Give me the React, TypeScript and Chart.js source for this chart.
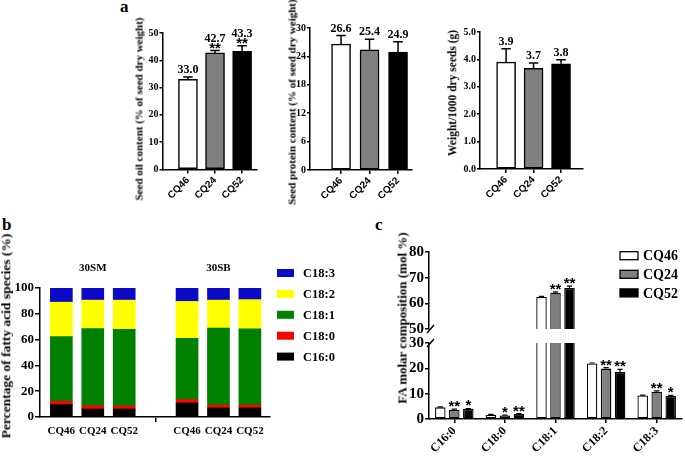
import React, { useEffect, useRef } from 'react';
import { Chart, registerables } from 'chart.js';

Chart.register(...registerables);

const SERIF = "'Liberation Serif', 'Times New Roman', serif";
const SANS = "'Liberation Sans', Arial, sans-serif";
Chart.defaults.color = '#000';
Chart.defaults.font.family = SERIF;

// ---------- panel a ----------
const strains = ['CQ46', 'CQ24', 'CQ52'];
const strainColors = ['#ffffff', '#808080', '#000000'];
const oilValues = [33.0, 42.7, 43.3];
const oilErrors = [0.85, 0.85, 2.0];
const oilSig = ['', '**', '**'];
const proteinValues = [26.6, 25.4, 24.9];
const proteinErrors = [1.8, 2.2, 2.2];
const proteinSig = ['', '', ''];
const weightValues = [3.9, 3.67, 3.84];
const weightErrors = [0.49, 0.2, 0.15];
const weightSig = ['', '', ''];

// ---------- panel b ----------
const compositionGroups = ['30SM', '30SB'];
const compositionSpecies = ['C16:0', 'C18:0', 'C18:1', 'C18:2', 'C18:3'];
const speciesColors = ['#000000', '#ff0000', '#008000', '#ffff00', '#0a0ac8'];
// order: 30SM CQ46, CQ24, CQ52, 30SB CQ46, CQ24, CQ52
const pctC160 = [9.6, 6.2, 6.2, 10.9, 7.0, 7.0];
const pctC180 = [2.6, 2.6, 2.4, 2.6, 2.1, 2.1];
const pctC181 = [50.1, 59.8, 59.4, 47.5, 59.9, 59.2];
const pctC182 = [26.7, 22.0, 22.6, 28.6, 21.6, 22.7];
const pctC183 = [11.0, 9.4, 9.4, 10.4, 9.4, 9.0];

// ---------- panel c ----------
const faLabels = ['C16:0', 'C18:0', 'C18:1', 'C18:2', 'C18:3'];
const molarCQ46 = [4.6, 1.7, 62.5, 21.9, 9.3];
const molarCQ24 = [3.7, 1.4, 64.1, 19.9, 10.8];
const molarCQ52 = [4.0, 2.0, 66.0, 18.6, 9.1];
const errCQ46 = [0.2, 0.1, 0.2, 0.2, 0.15];
const errCQ24 = [0.2, 0.1, 0.4, 0.4, 0.3];
const errCQ52 = [0.15, 0.1, 0.7, 1.0, 0.2];
const sigCQ46 = ['', '', '', '', ''];
const sigCQ24 = ['**', '*', '**', '**', '**'];
const sigCQ52 = ['*', '**', '**', '**', '*'];

// ---------- helpers ----------
const axisLine = { color: '#000', width: 1.5 };
const tickGrid = (extra: any = {}) => ({
  drawOnChartArea: false,
  drawTicks: true,
  tickLength: 4,
  color: '#000',
  lineWidth: 1.5,
  offset: false,
  ...extra,
});
const fixY = (w: number) => (s: any) => {
  s.width = w;
  s.paddingTop = 0;
  s.paddingBottom = 0;
};
const fixX = (h: number) => (s: any) => {
  s.height = h;
  s.paddingLeft = 0;
  s.paddingRight = 0;
};
const bold = (size: number, family = SERIF) => ({ family, size, weight: 'bold' as const });

const annotatePlugin = {
  id: 'annotate',
  afterDatasetsDraw(chart: any) {
    const { ctx } = chart;
    const y = chart.scales.y;
    chart.data.datasets.forEach((ds: any, di: number) => {
      if (!ds.errors && !ds.sig && !ds.valueText) return;
      const meta = chart.getDatasetMeta(di);
      meta.data.forEach((bar: any, i: number) => {
        const raw = ds.data[i];
        const v = typeof raw === 'number' ? raw : raw.y;
        if (v < y.min || v > y.max) return;
        const err = ds.errors ? ds.errors[i] : 0;
        const top = y.getPixelForValue(v + err);
        ctx.save();
        ctx.strokeStyle = '#000';
        ctx.fillStyle = '#000';
        ctx.lineWidth = ds.errorLineWidth ?? 1.5;
        if (err) {
          const cap = bar.width * 0.5;
          ctx.beginPath();
          ctx.moveTo(bar.x, bar.y);
          ctx.lineTo(bar.x, top);
          ctx.moveTo(bar.x - cap / 2, top);
          ctx.lineTo(bar.x + cap / 2, top);
          ctx.stroke();
        }
        ctx.textAlign = 'center';
        ctx.textBaseline = 'alphabetic';
        let cursor = top - 4;
        const sig = ds.sig ? ds.sig[i] : '';
        if (sig) {
          ctx.font = ds.sigFont;
          const m = ctx.measureText(sig);
          const base = top - 2 - m.actualBoundingBoxDescent;
          ctx.fillText(sig, bar.x, base);
          cursor = base - m.actualBoundingBoxAscent - 1;
        }
        const txt = ds.valueText ? ds.valueText[i] : '';
        if (txt) {
          ctx.font = ds.valueFont;
          ctx.fillText(txt, bar.x, cursor);
        }
        ctx.restore();
      });
    });
  },
};

const boxLegendPlugin = {
  id: 'boxLegend',
  afterDraw(chart: any, _a: any, opts: any) {
    if (!opts || opts.left == null) return;
    const { ctx } = chart;
    const ds = [...chart.data.datasets];
    if (opts.reverse) ds.reverse();
    ctx.save();
    ds.forEach((d: any, i: number) => {
      const cy = opts.top + i * opts.step;
      const x0 = opts.left;
      const y0 = cy - opts.boxHeight / 2;
      ctx.fillStyle = d.backgroundColor;
      ctx.fillRect(x0, y0, opts.boxWidth, opts.boxHeight);
      if (d.borderWidth) {
        ctx.strokeStyle = d.borderColor;
        ctx.lineWidth = 1.3;
        ctx.strokeRect(x0, y0, opts.boxWidth, opts.boxHeight);
      }
      ctx.fillStyle = '#000';
      ctx.font = opts.font;
      ctx.textAlign = 'left';
      ctx.textBaseline = 'middle';
      ctx.fillText(d.label, x0 + opts.boxWidth + opts.gap, cy + 1);
    });
    ctx.restore();
  },
};

const groupLabelPlugin = {
  id: 'groupLabels',
  afterDraw(chart: any, _a: any, opts: any) {
    if (!opts || !opts.labels) return;
    const { ctx } = chart;
    const x = chart.scales.x;
    ctx.save();
    ctx.fillStyle = '#000';
    ctx.font = opts.font;
    ctx.textAlign = 'center';
    ctx.textBaseline = 'alphabetic';
    opts.labels.forEach((l: string, g: number) => {
      ctx.fillText(l, x.getPixelForValue(opts.centers[g]), chart.chartArea.top - opts.offset);
    });
    ctx.restore();
  },
};

const axisBreakPlugin = {
  id: 'axisBreak',
  afterDraw(chart: any, _a: any, opts: any) {
    if (!opts || !opts.edge) return;
    const { ctx, chartArea } = chart;
    const yEdge = opts.edge === 'bottom' ? chartArea.bottom : chartArea.top;
    const x = chartArea.left;
    ctx.save();
    ctx.strokeStyle = '#000';
    ctx.lineWidth = 1.5;
    ctx.beginPath();
    ctx.moveTo(x - 2, yEdge + 4);
    ctx.lineTo(x + 5, yEdge - 4);
    ctx.stroke();
    ctx.restore();
  },
};

const baseOptions = {
  animation: false,
  responsive: false,
  maintainAspectRatio: false,
  devicePixelRatio: 1,
  events: [],
};

type TraitOpts = {
  values: number[];
  errors: number[];
  sig: string[];
  decimals: number;
  max: number;
  step: number;
  yWidth: number;
  xMin: number;
  xMax: number;
  padTop: number;
  padRight: number;
  xHeight: number;
};

function traitConfig(o: TraitOpts) {
  return {
    type: 'bar',
    data: {
      datasets: [
        {
          data: o.values.map((v, i) => ({ x: i, y: v })),
          backgroundColor: strainColors,
          borderColor: '#000',
          borderWidth: 1.5,
          borderSkipped: false,
          barThickness: 19,
          errors: o.errors,
          sig: o.sig,
          valueText: o.values.map((v) => v.toFixed(1)),
          sigFont: `bold 15px ${SANS}`,
          valueFont: `bold 12px ${SERIF}`,
        },
      ],
    },
    options: {
      ...baseOptions,
      layout: { padding: { left: 0, top: o.padTop, right: o.padRight, bottom: 0 } },
      plugins: { legend: { display: false }, tooltip: { enabled: false } },
      scales: {
        x: {
          type: 'linear',
          min: o.xMin,
          max: o.xMax,
          offset: false,
          grid: tickGrid(),
          border: axisLine,
          afterBuildTicks: (s: any) => {
            s.ticks = strains.map((_, i) => ({ value: i }));
          },
          afterFit: fixX(o.xHeight),
          ticks: {
            autoSkip: false,
            minRotation: 45,
            maxRotation: 45,
            padding: 1,
            font: bold(10, SANS),
            callback: (v: number) => strains[v] ?? '',
          },
        },
        y: {
          min: 0,
          max: o.max,
          grid: tickGrid({ tickLength: 3 }),
          border: axisLine,
          afterFit: fixY(o.yWidth),
          ticks: {
            stepSize: o.step,
            padding: 1,
            font: bold(10),
            callback: (v: number) => Number(v).toFixed(o.decimals),
          },
        },
      },
    },
    plugins: [annotatePlugin],
  };
}

function compositionConfig() {
  const series = [pctC160, pctC180, pctC181, pctC182, pctC183];
  const per = strains.length + 1;
  const slot = (j: number) => Math.floor(j / strains.length) * per + (j % strains.length);
  const slots = Array.from({ length: compositionGroups.length * per - 1 }, (_, i) => i);
  return {
    type: 'bar',
    data: {
      datasets: compositionSpecies.map((name, k) => ({
        label: name,
        data: series[k].map((v, j) => ({ x: slot(j), y: v })),
        backgroundColor: speciesColors[k],
        borderWidth: 0,
        barThickness: 22,
      })),
    },
    options: {
      ...baseOptions,
      layout: { padding: { left: 0, top: 48, right: 75, bottom: 0 } },
      plugins: {
        legend: { display: false },
        tooltip: { enabled: false },
        boxLegend: {
          left: 277,
          top: 33,
          step: 20.9,
          boxWidth: 17,
          boxHeight: 8,
          gap: 9,
          font: `bold 12.5px ${SERIF}`,
          reverse: true,
        },
        groupLabels: {
          labels: compositionGroups,
          centers: compositionGroups.map((_, g) => g * per + (strains.length - 1) / 2),
          offset: 17,
          font: `bold 11px ${SERIF}`,
        },
      },
      scales: {
        x: {
          type: 'linear',
          stacked: true,
          min: -0.68,
          max: 6.64,
          offset: false,
          grid: tickGrid({
            tickLength: 5,
            tickColor: (c: any) =>
              c.tick && c.tick.value % per === strains.length ? '#000' : 'rgba(0,0,0,0)',
          }),
          border: axisLine,
          afterBuildTicks: (s: any) => {
            s.ticks = slots.map((v) => ({ value: v }));
          },
          afterFit: fixX(42),
          ticks: {
            autoSkip: false,
            minRotation: 0,
            maxRotation: 0,
            padding: 3,
            font: bold(11),
            callback: (v: number) => strains[v % per] ?? '',
          },
        },
        y: {
          stacked: true,
          min: 0,
          max: 100,
          grid: tickGrid({ tickLength: 5 }),
          border: axisLine,
          afterFit: fixY(40),
          ticks: { stepSize: 20, padding: 1, font: bold(13) },
        },
      },
    },
    plugins: [boxLegendPlugin, groupLabelPlugin],
  };
}

function molarConfig(part: 'upper' | 'lower') {
  const series = [molarCQ46, molarCQ24, molarCQ52];
  const errs = [errCQ46, errCQ24, errCQ52];
  const sigs = [sigCQ46, sigCQ24, sigCQ52];
  const upper = part === 'upper';
  return {
    type: 'bar',
    data: {
      labels: faLabels,
      datasets: strains.map((name, k) => ({
        label: name,
        data: series[k],
        errors: errs[k],
        sig: sigs[k],
        sigFont: `bold 15px ${SANS}`,
        errorLineWidth: 1.2,
        backgroundColor: strainColors[k],
        borderColor: '#000',
        borderWidth: 1.3,
        borderSkipped: false,
        clip: 0,
        categoryPercentage: 0.83,
        barPercentage: 0.75,
      })),
    },
    options: {
      ...baseOptions,
      layout: {
        padding: upper
          ? { left: 0, top: 17, right: 3, bottom: 130 }
          : { left: 0, top: 108, right: 3, bottom: 0 },
      },
      plugins: {
        legend: { display: false },
        tooltip: { enabled: false },
        axisBreak: { edge: upper ? 'bottom' : 'top' },
        boxLegend: upper
          ? {
              left: 290,
              top: 20.7,
              step: 18.6,
              boxWidth: 18,
              boxHeight: 8,
              gap: 5,
              font: `bold 14px ${SERIF}`,
            }
          : {},
      },
      scales: {
        x: {
          display: !upper,
          offset: true,
          grid: tickGrid(),
          border: axisLine,
          afterFit: fixX(upper ? 0 : 40),
          ticks: { autoSkip: false, minRotation: 45, maxRotation: 45, padding: 1, font: bold(12) },
        },
        y: {
          min: upper ? 50 : 0,
          max: upper ? 80 : 30,
          grid: tickGrid(),
          border: axisLine,
          afterFit: fixY(99),
          ticks: { stepSize: 10, padding: 1, font: bold(15) },
        },
      },
    },
    plugins: [annotatePlugin, axisBreakPlugin, boxLegendPlugin],
  };
}

// ---------- components ----------
type BoxProps = { left: number; top: number; width: number; height: number; config: () => any };

function ChartBox({ left, top, width, height, config }: BoxProps) {
  const ref = useRef<HTMLCanvasElement | null>(null);
  useEffect(() => {
    if (!ref.current) return;
    const chart = new Chart(ref.current, config());
    return () => chart.destroy();
  }, []);
  return (
    <canvas
      ref={ref}
      width={width}
      height={height}
      style={{ position: 'absolute', left, top, width, height }}
    />
  );
}

function VTitle({ cx, cy, size, text }: { cx: number; cy: number; size: number; text: string }) {
  return (
    <div
      style={{
        position: 'absolute',
        left: cx,
        top: cy,
        transform: 'translate(-50%, -50%) rotate(-90deg)',
        whiteSpace: 'nowrap',
        font: `bold ${size}px ${SERIF}`,
        lineHeight: 1,
        color: '#000',
      }}
    >
      {text}
    </div>
  );
}

function Letter({ left, top, text }: { left: number; top: number; text: string }) {
  return (
    <div
      style={{
        position: 'absolute',
        left,
        top,
        font: `bold 17px ${SERIF}`,
        lineHeight: 1,
        color: '#000',
      }}
    >
      {text}
    </div>
  );
}

export default function App() {
  return (
    <div
      style={{
        position: 'absolute',
        left: 0,
        top: 0,
        width: 685,
        height: 459,
        background: '#fff',
        overflow: 'hidden',
      }}
    >
      <Letter left={120} top={-2} text="a" />
      <Letter left={2} top={216} text="b" />
      <Letter left={375} top={216} text="c" />

      <ChartBox
        left={100}
        top={0}
        width={165}
        height={215}
        config={() =>
          traitConfig({
            values: oilValues,
            errors: oilErrors,
            sig: oilSig,
            decimals: 0,
            max: 50,
            step: 10,
            yWidth: 62.5,
            xMin: -0.94,
            xMax: 2.55,
            padTop: 33,
            padRight: 8,
            xHeight: 45.5,
          })
        }
      />
      <VTitle cx={139} cy={109} size={11} text="Seed oil content (% of seed dry weight)" />

      <ChartBox
        left={270}
        top={0}
        width={150}
        height={215}
        config={() =>
          traitConfig({
            values: proteinValues,
            errors: proteinErrors,
            sig: proteinSig,
            decimals: 0,
            max: 30,
            step: 6,
            yWidth: 40,
            xMin: -1.09,
            xMax: 2.49,
            padTop: 28,
            padRight: 8,
            xHeight: 45,
          })
        }
      />
      <VTitle cx={292} cy={102} size={11} text="Seed protein content (% of seed dry weight)" />

      <ChartBox
        left={440}
        top={0}
        width={150}
        height={215}
        config={() =>
          traitConfig({
            values: weightValues,
            errors: weightErrors,
            sig: weightSig,
            decimals: 1,
            max: 5,
            step: 1,
            yWidth: 40,
            xMin: -0.95,
            xMax: 2.8,
            padTop: 32,
            padRight: 7,
            xHeight: 46,
          })
        }
      />
      <VTitle cx={453} cy={92.5} size={11.5} text="Weight/1000 dry seeds (g)" />

      <ChartBox left={0} top={240} width={345} height={219} config={compositionConfig} />
      <VTitle cx={6} cy={336} size={13.5} text="Percentage of fatty acid species (%)" />

      <ChartBox left={330} top={235} width={355} height={224} config={() => molarConfig('upper')} />
      <ChartBox left={330} top={235} width={355} height={224} config={() => molarConfig('lower')} />
      <VTitle cx={402} cy={317.5} size={13} text="FA molar composition (mol %)" />
    </div>
  );
}
